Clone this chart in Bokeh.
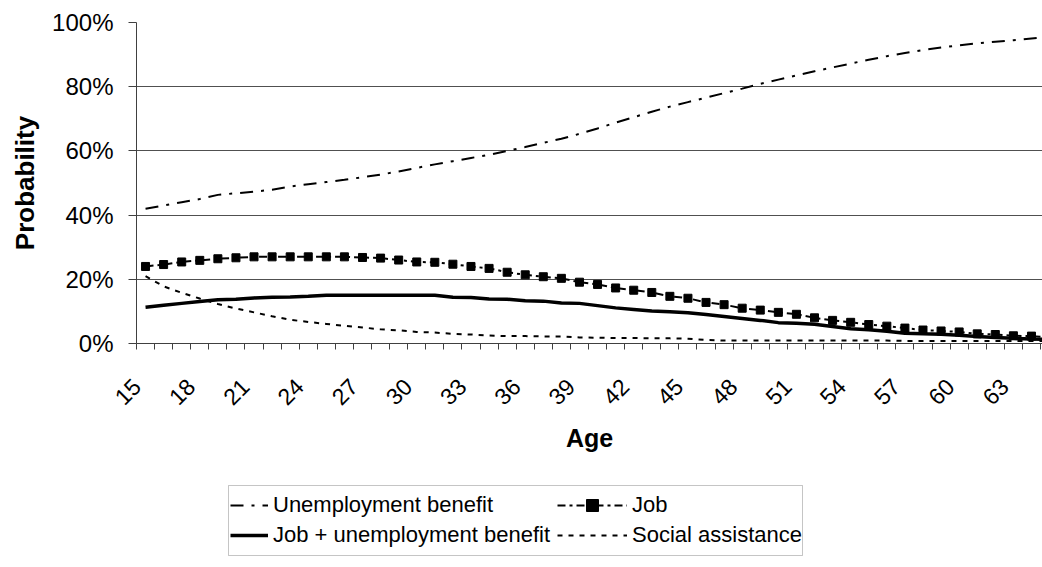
import math
from bokeh.plotting import figure
from bokeh.layouts import column
from bokeh.models import Range1d, FixedTicker, Legend, LegendItem, BoxAnnotation
from bokeh.embed import file_html
from bokeh.resources import INLINE

ages = list(range(15, 66))

unemployment_benefit = [42.0, 43.0, 44.0, 45.0, 46.3, 46.8, 47.3, 47.9, 48.9, 49.6,
                        50.3, 51.0, 51.8, 52.6, 53.6, 54.7, 55.8, 56.8, 57.8, 58.8,
                        60.0, 61.2, 62.5, 63.8, 65.3, 67.0, 68.8, 70.5, 72.2, 73.8,
                        75.2, 76.6, 78.0, 79.4, 80.9, 82.2, 83.5, 84.8, 86.0, 87.2,
                        88.4, 89.5, 90.5, 91.4, 92.2, 92.9, 93.5, 94.0, 94.5, 95.0, 95.5]

job = [24.0, 24.6, 25.4, 25.9, 26.4, 26.7, 27.0, 27.0, 27.0, 27.0,
       27.0, 27.0, 26.8, 26.6, 26.0, 25.4, 25.3, 24.7, 24.0, 23.4,
       22.2, 21.4, 20.8, 20.3, 19.1, 18.4, 17.3, 16.6, 15.9, 14.7,
       14.1, 12.8, 12.1, 11.0, 10.4, 9.7, 9.1, 8.0, 7.2, 6.6,
       5.9, 5.4, 4.8, 4.2, 3.9, 3.6, 3.0, 2.8, 2.4, 2.3, 1.9]

job_plus_unemployment_benefit = [11.3, 11.9, 12.5, 13.1, 13.6, 13.8, 14.2, 14.4, 14.5, 14.7,
                                 15.0, 15.0, 15.0, 15.0, 15.0, 15.0, 15.0, 14.4, 14.3, 13.9,
                                 13.8, 13.3, 13.2, 12.6, 12.5, 11.8, 11.1, 10.6, 10.1, 9.9,
                                 9.6, 9.0, 8.4, 7.8, 7.2, 6.5, 6.3, 6.0, 5.3, 4.6,
                                 4.3, 3.8, 3.2, 3.0, 2.9, 2.6, 2.2, 1.9, 1.6, 1.4, 1.3]

social_assistance = [21.0, 17.8, 15.8, 14.0, 12.3, 10.9, 9.7, 8.5, 7.4, 6.7,
                     6.1, 5.5, 5.0, 4.4, 4.1, 3.6, 3.4, 3.0, 2.8, 2.5,
                     2.3, 2.3, 2.2, 2.2, 1.9, 1.8, 1.7, 1.7, 1.6, 1.6,
                     1.5, 1.1, 0.9, 0.9, 0.9, 0.9, 0.9, 0.9, 0.9, 0.9,
                     0.9, 0.9, 0.8, 0.8, 0.8, 0.8, 0.8, 0.8, 0.8, 0.8, 0.8]

series_labels = ["Unemployment benefit", "Job", "Job + unemployment benefit", "Social assistance"]
x_tick_labels = ["15", "18", "21", "24", "27", "30", "33", "36", "39",
                 "42", "45", "48", "51", "54", "57", "60", "63"]
y_ticks = [0, 20, 40, 60, 80, 100]
y_tick_labels = ["0%", "20%", "40%", "60%", "80%", "100%"]

FONT = "Liberation Sans"
AXIS_GRAY = "#404040"

# styles
UB_STYLE = dict(line_color="black", line_width=2, line_dash="13 8 3 8")
JOB_STYLE = dict(line_color="black", line_width=2, line_dash="8 4 3 4")
JOB_MARK = dict(marker="square", size=8, color="black")
JUB_STYLE = dict(line_color="black", line_width=3.5)
SA_STYLE = dict(line_color="black", line_width=2, line_dash="5 6")

LEFT = 136

p = figure(width=1042, height=470, output_backend="svg", toolbar_location=None,
           x_range=Range1d(14.5, 64.61), y_range=Range1d(0, 100),
           min_border_left=LEFT, min_border_right=0, min_border_top=22,
           min_border_bottom=127)
p.title.visible = False
p.outline_line_color = None
p.background_fill_color = "white"

# x axis: ticks at category boundaries, labels every third category
boundaries = [a - 0.5 for a in ages]
p.xaxis.ticker = FixedTicker(ticks=boundaries)
overrides = {b: "" for b in boundaries}
for lab in x_tick_labels:
    overrides[int(lab) - 0.5] = lab
p.xaxis.major_label_overrides = overrides
p.xaxis.major_label_orientation = math.pi / 4
p.xaxis.major_tick_in = 0
p.xaxis.major_tick_out = 6
p.xaxis.minor_tick_line_color = None
p.xaxis.major_label_standoff = 33
p.xaxis.axis_label = "Age"
p.xaxis.axis_label_standoff = 8
p.xaxis.major_label_text_font_size = "23px"
p.xaxis.axis_label_text_font_size = "25px"

p.yaxis.ticker = FixedTicker(ticks=y_ticks)
p.yaxis.major_label_overrides = {t: l for t, l in zip(y_ticks, y_tick_labels)}
p.yaxis.major_tick_in = 0
p.yaxis.major_tick_out = 8
p.yaxis.minor_tick_line_color = None
p.yaxis.major_label_standoff = 15
p.yaxis.axis_label = "Probability"
p.yaxis.axis_label_standoff = 9
p.yaxis.major_label_text_font_size = "24px"
p.yaxis.axis_label_text_font_size = "26px"

for ax in (p.xaxis, p.yaxis):
    ax.axis_line_color = AXIS_GRAY
    ax.major_tick_line_color = AXIS_GRAY
    ax.major_label_text_font = FONT
    ax.major_label_text_color = "black"
    ax.axis_label_text_font = FONT
    ax.axis_label_text_font_style = "bold"
    ax.axis_label_text_color = "black"

p.xgrid.visible = False
p.ygrid.ticker = FixedTicker(ticks=y_ticks)
p.ygrid.grid_line_color = "#505050"
p.ygrid.grid_line_width = 1

p.line(ages, social_assistance, **SA_STYLE)
p.line(ages, unemployment_benefit, **UB_STYLE)
p.line(ages, job_plus_unemployment_benefit, **JUB_STYLE)
p.line(ages, job, **JOB_STYLE)
p.scatter(ages, job, **JOB_MARK)

# legend panel below the chart (hidden copies of the series supply the legend glyphs)
q = figure(width=1042, height=97, output_backend="svg", toolbar_location=None,
           x_range=Range1d(0, 1), y_range=Range1d(0, 1),
           x_axis_type=None, y_axis_type=None,
           min_border_left=LEFT, min_border_right=0, min_border_top=0, min_border_bottom=0)
q.title.visible = False
q.outline_line_color = None
q.xgrid.visible = False
q.ygrid.visible = False

k_ub = q.line(ages, unemployment_benefit, visible=False, **UB_STYLE)
k_job = q.line(ages, job, visible=False, **JOB_STYLE)
k_jobm = q.scatter(ages, job, visible=False, **JOB_MARK)
k_jub = q.line(ages, job_plus_unemployment_benefit, visible=False, **JUB_STYLE)
k_sa = q.line(ages, social_assistance, visible=False, **SA_STYLE)

legend_style = dict(glyph_height=30, label_height=30, spacing=0, padding=0, margin=0,
                    label_standoff=5, border_line_color=None, background_fill_alpha=0,
                    inactive_fill_alpha=0,
                    label_text_font=FONT, label_text_font_size="22px",
                    label_text_color="black")

legend_a = Legend(items=[LegendItem(label=series_labels[0], renderers=[k_ub]),
                         LegendItem(label=series_labels[2], renderers=[k_jub])],
                  location=(230 - LEFT, 17), glyph_width=38, **legend_style)
legend_b = Legend(items=[LegendItem(label=series_labels[1], renderers=[k_job, k_jobm]),
                         LegendItem(label=series_labels[3], renderers=[k_sa])],
                  location=(557 - LEFT, 17), glyph_width=70, **legend_style)
q.add_layout(legend_a)
q.add_layout(legend_b)

box = BoxAnnotation(left=228 - LEFT, right=802 - LEFT, top=82, bottom=12,
                    left_units="screen", right_units="screen",
                    top_units="screen", bottom_units="screen",
                    fill_alpha=0, line_color=AXIS_GRAY, line_width=1)
q.add_layout(box)

layout = column(p, q, spacing=0)
open("out.html", "w").write(file_html(layout, INLINE))
